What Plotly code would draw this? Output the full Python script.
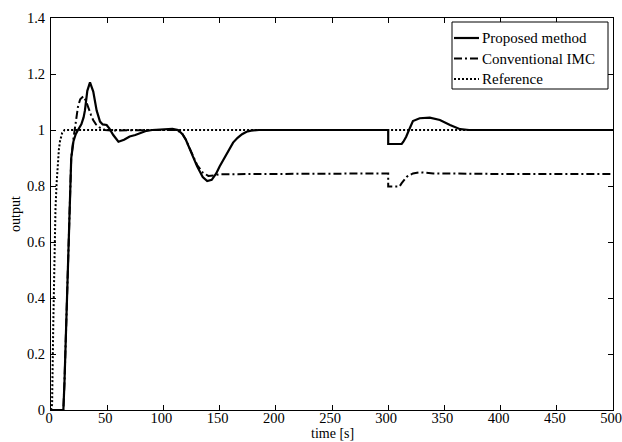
import plotly.graph_objects as go

# Proposed method (solid)
t_prop = [0, 11, 12, 15, 18, 20, 22, 24, 27, 29, 30.2, 32.3, 34.7, 37.6, 40.6, 43.6, 46, 49.5, 52, 55.4,
          60, 65, 70, 75, 80, 85, 90, 100, 108, 113, 117, 120, 125, 130, 135, 139, 143, 147, 150, 154,
          158, 162, 166, 170, 174, 178, 185, 200, 250, 300, 300, 304, 308, 312, 313.5, 316, 318.5, 322,
          328, 337, 346, 355, 364, 372, 400, 500]
y_prop = [0, 0, 0.1, 0.5, 0.9, 0.96, 0.985, 1.0, 1.02, 1.045, 1.07, 1.14, 1.17, 1.137, 1.07, 1.03, 1.02, 1.018, 1.005, 0.982,
          0.958, 0.965, 0.977, 0.982, 0.99, 0.997, 1.0, 1.003, 1.004, 1.0, 0.985, 0.965, 0.92, 0.87, 0.832, 0.818, 0.822, 0.845, 0.87, 0.9,
          0.93, 0.955, 0.972, 0.985, 0.994, 0.998, 1.0, 1.0, 1.0, 1.0, 0.95, 0.95, 0.95, 0.95, 0.958, 0.976, 1.0, 1.032,
          1.042, 1.044, 1.036, 1.018, 1.003, 1.0, 1.0, 1.0]

# Conventional IMC (dash-dot)
t_imc = [0, 11, 12, 15, 18, 20, 22, 24, 26, 28.7, 31, 33, 35.5, 37.5, 40, 43.6, 48, 55, 70, 90, 110, 113, 117,
         120, 125, 130, 135, 140, 145, 150, 200, 250, 300, 300, 305, 310, 312, 316.5, 322, 328, 340, 400, 500]
y_imc = [0, 0, 0.1, 0.5, 0.9, 0.97, 1.02, 1.083, 1.11, 1.12, 1.105, 1.08, 1.055, 1.036, 1.02, 1.008, 1.0, 0.998, 1.0, 1.0, 1.0, 0.998, 0.985,
         0.965, 0.92, 0.875, 0.848, 0.836, 0.838, 0.842, 0.843, 0.844, 0.845, 0.798, 0.797, 0.798, 0.81, 0.833, 0.845, 0.849, 0.845, 0.843, 0.843]

# Reference (dotted)
t_ref = [0, 1, 2, 3, 4, 5, 6, 7, 8, 9, 10, 12, 500]
y_ref = [0, 0.02, 0.3, 0.57, 0.72, 0.81, 0.88, 0.93, 0.96, 0.98, 0.99, 1.0, 1.0]

series_names = ["Proposed method", "Conventional IMC", "Reference"]

x_ticks = [0, 50, 100, 150, 200, 250, 300, 350, 400, 450, 500]
y_ticks = [0, 0.2, 0.4, 0.6, 0.8, 1, 1.2, 1.4]
y_tick_text = ["0", "0.2", "0.4", "0.6", "0.8", "1", "1.2", "1.4"]
x_title = "time [s]"
y_title = "output"

font = "Liberation Serif, Times New Roman, serif"

W, H = 622, 442
ML, MR, MT, MB = 51, 9, 18, 32
PW, PH = W - ML - MR, H - MT - MB


def px_x(p):
    return (p - ML) / PW


def px_y(p):
    return 1 - (p - MT) / PH


styles = [dict(color="black", width=2.2),
          dict(color="black", width=2, dash="8px,3px,2px,3px"),
          dict(color="black", width=2, dash="2px,2px")]

fig = go.Figure()
for name, tx, ty, st in zip(series_names, [t_prop, t_imc, t_ref], [y_prop, y_imc, y_ref], styles):
    fig.add_trace(go.Scatter(x=tx, y=ty, mode="lines", name=name, line=st, showlegend=False))

# custom legend box (matches the compact original legend)
shapes = [dict(type="rect", xref="paper", yref="paper",
               x0=px_x(452), x1=px_x(608), y0=px_y(89), y1=px_y(22),
               line=dict(color="black", width=1), fillcolor="white", layer="above")]
annotations = []
row_y = [38, 58.5, 79]
for name, st, ry in zip(series_names, styles, row_y):
    shapes.append(dict(type="line", xref="paper", yref="paper",
                       x0=px_x(454), x1=px_x(479), y0=px_y(ry), y1=px_y(ry),
                       line=st, layer="above"))
    annotations.append(dict(xref="paper", yref="paper", x=px_x(480), y=px_y(ry),
                            xanchor="left", yanchor="middle", showarrow=False, text=name,
                            font=dict(family=font, size=15, color="black")))

# axis titles
annotations.append(dict(xref="paper", yref="paper", x=px_x(332), y=px_y(433),
                        xanchor="center", yanchor="middle", showarrow=False, text=x_title,
                        font=dict(family=font, size=14, color="black")))
annotations.append(dict(xref="paper", yref="paper", x=px_x(15), y=px_y(214),
                        xanchor="center", yanchor="middle", showarrow=False, text=y_title,
                        textangle=-90, font=dict(family=font, size=14, color="black")))

axis_common = dict(showgrid=False, zeroline=False, showline=True, linecolor="black", linewidth=1,
                   mirror="ticks", ticks="inside", ticklen=5, tickcolor="black",
                   ticklabeloverflow="allow", automargin=False,
                   tickfont=dict(family=font, size=14.5, color="black"))

fig.update_layout(
    width=W, height=H,
    margin=dict(l=ML, r=MR, t=MT, b=MB, autoexpand=False),
    paper_bgcolor="white", plot_bgcolor="white",
    font=dict(family=font, size=14, color="black"),
    xaxis=dict(range=[0, 500], tickvals=x_ticks, ticklabelshift=-2, ticklabelstandoff=-5, **axis_common),
    yaxis=dict(range=[0, 1.4], tickvals=y_ticks, ticktext=y_tick_text, ticklabelstandoff=2, **axis_common),
    shapes=shapes,
    annotations=annotations,
    showlegend=False,
)

fig.write_html("out.html")
